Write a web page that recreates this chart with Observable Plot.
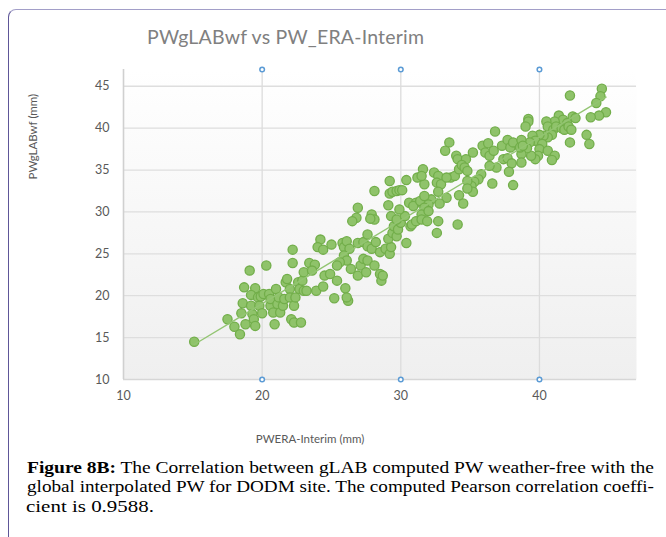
<!DOCTYPE html>
<html><head><meta charset="utf-8">
<script src="https://cdn.jsdelivr.net/npm/d3@7"></script>
<script src="https://cdn.jsdelivr.net/npm/@observablehq/plot@0.6"></script>
<style>
body{margin:0;background:#fff;}
#wrap{position:relative;width:666px;height:537px;overflow:hidden;font-family:Lato,sans-serif;}
#border{position:absolute;left:8px;top:9px;width:720px;height:620px;border-top:1.5px solid #a29ec8;border-left:1.5px solid #5e5698;border-top-left-radius:8px;}
#chart{position:absolute;left:0;top:0;}
#title{position:absolute;left:147px;top:25px;font-size:19.5px;letter-spacing:0.2px;color:#808080;white-space:nowrap;}
#caption{position:absolute;left:0;top:455px;}
</style></head><body>
<div id="wrap"><div id="border"></div><div id="chart"></div><div id="title">PWgLABwf vs PW_ERA-Interim</div>
<svg id="caption" width="666" height="82" font-family="'Liberation Serif', serif" font-size="16.5" fill="#000">
<text x="27" y="17.5" textLength="627" lengthAdjust="spacingAndGlyphs"><tspan font-weight="bold">Figure 8B:</tspan> The Correlation between gLAB computed PW weather-free with the</text>
<text x="27" y="37" textLength="627" lengthAdjust="spacingAndGlyphs">global interpolated PW for DODM site. The computed Pearson correlation coeffi-</text>
<text x="26" y="56.5" textLength="128" lengthAdjust="spacingAndGlyphs">cient is 0.9588.</text>
</svg>
</div>
<script>
// PW ERA-Interim (x, mm) vs PWgLABwf (y, mm)
const lowCluster = [[15.1,14.5],[17.5,17.2],[18.0,16.3],[18.4,15.4],[18.5,17.9],[18.6,19.1],[18.7,21.0],[19.1,23.0],[18.8,16.6],[19.2,18.8],[19.3,17.8],[19.4,17.2],[19.5,16.4],[19.5,20.9],[19.2,20.1],[19.7,19.8],[19.8,18.8],[19.9,19.9],[20.0,17.9],[20.1,20.2],[20.3,23.6],[20.5,20.2],[20.6,18.8],[20.6,19.6],[20.8,18.0],[20.9,16.6],[21.0,20.8],[21.1,19.0],[21.2,19.8],[21.3,18.0],[21.5,18.8],[21.6,19.6],[21.7,21.6],[21.8,22.0],[22.0,20.8],[22.0,19.8],[22.2,25.5],[22.2,23.9],[22.1,17.2],[22.3,16.8],[22.3,18.8],[22.4,19.8],[22.6,21.6],[22.7,20.8],[22.8,16.8],[22.9,21.8],[23.0,22.8],[23.0,20.6]];
const midCluster = [[24.2,26.7],[24.0,25.8],[24.4,25.5],[25.0,26.1],[23.4,23.9],[23.8,23.7],[23.6,23.0],[23.2,20.6],[23.9,20.6],[24.4,21.1],[24.5,22.4],[24.9,22.6],[25.4,21.8],[25.8,26.3],[25.9,25.8],[26.1,26.5],[26.3,25.6],[25.9,24.8],[26.1,24.2],[25.6,24.0],[25.4,23.6],[26.4,23.2],[26.9,22.4],[27.1,23.6],[27.3,24.4],[27.6,24.2],[27.5,22.8],[28.1,23.6],[28.5,22.6],[28.6,21.8],[28.7,22.4],[25.2,19.7],[26.0,20.9],[26.2,19.4],[26.1,19.8],[26.9,26.3],[27.3,26.4],[27.6,27.3],[27.6,25.9],[27.9,25.6],[28.2,26.4],[28.5,25.2],[28.9,25.6],[29.2,25.0],[29.3,25.8],[29.1,26.8],[29.4,27.5],[29.7,27.1],[29.5,28.3],[29.8,27.9],[30.0,28.7],[29.3,29.5],[29.7,29.1],[30.3,29.5],[30.4,26.3],[30.7,28.3],[29.9,30.3],[30.6,31.1],[29.1,30.8],[27.9,29.7],[28.1,29.1],[27.8,29.2],[26.9,30.5],[26.8,29.3],[26.5,28.9],[28.1,32.5],[29.2,33.7],[30.4,33.8],[29.2,32.2],[29.4,32.4],[29.7,32.5],[29.9,32.6],[30.1,32.6]];
const upperMid = [[36.8,39.6],[33.5,38.3],[33.2,37.3],[34.0,36.7],[34.1,36.3],[34.7,36.3],[35.2,37.1],[35.9,37.9],[36.3,38.2],[36.1,37.1],[36.4,36.7],[36.7,37.3],[37.3,37.9],[37.7,38.6],[37.9,37.7],[38.1,38.3],[37.4,36.3],[37.7,36.4],[38.0,35.8],[36.9,35.3],[36.4,35.5],[37.8,34.8],[38.1,33.2],[36.6,33.4],[35.8,34.5],[35.6,33.9],[35.3,33.6],[35.1,33.1],[34.8,33.7],[35.2,32.4],[34.8,32.8],[34.5,31.0],[34.2,32.0],[34.1,28.5],[33.3,31.7],[32.8,31.0],[32.7,28.9],[32.6,27.5],[32.4,34.7],[32.7,34.3],[32.6,33.5],[32.9,33.3],[32.7,32.4],[32.2,31.5],[31.7,33.3],[31.6,35.1],[31.2,34.1],[31.5,34.3],[31.1,31.1],[30.9,30.7],[31.4,31.3],[31.7,31.9],[32.0,30.9],[31.7,30.5],[30.8,28.5],[31.1,28.9],[31.5,29.7],[31.5,29.1],[32.0,30.1],[31.9,28.9],[33.6,34.1],[33.9,34.3],[34.2,35.1],[34.4,35.6],[34.6,35.3],[34.8,34.9],[33.3,34.1]];
const topCluster = [[44.5,44.7],[44.4,43.8],[44.1,43.0],[44.8,41.9],[44.3,41.5],[43.7,41.3],[42.2,43.9],[42.4,41.4],[42.6,41.2],[41.4,41.5],[41.7,41.0],[42.0,40.6],[41.1,40.8],[40.5,40.8],[40.6,40.2],[41.0,39.8],[41.2,40.2],[41.6,40.0],[41.8,39.8],[42.1,40.2],[42.3,39.8],[39.2,41.1],[39.2,40.8],[39.0,40.2],[43.4,39.2],[43.6,38.1],[42.2,38.3],[40.9,39.2],[40.6,38.9],[40.3,39.1],[40.0,39.2],[39.5,39.1],[39.7,38.5],[39.3,38.3],[40.2,38.1],[40.0,37.5],[40.6,37.3],[41.1,36.7],[40.9,36.2],[39.9,36.7],[39.7,36.3],[39.4,36.7],[39.1,37.6],[38.7,38.6],[38.7,36.9],[38.7,35.9],[38.6,37.7],[38.8,37.9]];

const xTicks = [10, 20, 30, 40];
const yTicks = [10, 15, 20, 25, 30, 35, 40, 45];
const dropLineX = [20, 30, 40];
const xDomain = [10, 47];
const yDomain = [10, 47];

const pts = [...lowCluster, ...midCluster, ...upperMid, ...topCluster].map(([x, y]) => ({x, y}));
const markerPts = dropLineX.flatMap(x => [{x, y: yDomain[0]}, {x, y: yDomain[1]}]);

const chart = Plot.plot({
  width: 666, height: 460,
  marginLeft: 123, marginRight: 30, marginTop: 69, marginBottom: 81,
  x: {domain: xDomain},
  y: {domain: yDomain},
  style: {fontFamily: "Lato, sans-serif", fontSize: "12.5px", color: "#595959", background: "transparent", overflow: "visible"},
  marks: [
    Plot.frame({fill: "url(#plotbg)", stroke: null}),
    Plot.ruleY(yTicks.slice(1), {stroke: "#dedede", strokeWidth: 1.3}),
    Plot.ruleX(dropLineX, {stroke: "#dcdcdc", strokeWidth: 1.3}),
    Plot.ruleY([yDomain[0]], {stroke: "#d6d6d6", strokeWidth: 1.6}),
    Plot.ruleX([xDomain[0]], {stroke: "#d0d0d0", strokeWidth: 1.6}),
    Plot.axisX({ticks: xTicks, tickSize: 0, tickPadding: 12, label: null, fill: "#595959"}),
    Plot.axisY({ticks: yTicks, tickSize: 0, tickPadding: 14, label: null, fill: "#595959"}),
    Plot.dot(pts, {x: "x", y: "y", r: 4.6, fill: "#8fc36a", stroke: "#72ae4a", strokeWidth: 1.3}),
    Plot.linearRegressionY(pts, {x: "x", y: "y", stroke: "#93c572", strokeWidth: 1.4, ci: 0}),
    Plot.dot(markerPts, {x: "x", y: "y", r: 2.3, fill: "white", stroke: "#5b9bd5", strokeWidth: 1.5}),
    Plot.text(["PWERA-Interim (mm)"], {frameAnchor: "bottom", dx: -70, dy: 63, fontSize: 11.5, fill: "#595959"}),
    Plot.text(["PWgLABwf (mm)"], {frameAnchor: "left", dx: -90, dy: -45, rotate: -90, fontSize: 11.5, fill: "#595959"})
  ]
});
const defs = d3.select(chart).insert("defs", ":first-child");
const g = defs.append("linearGradient").attr("id", "plotbg").attr("x1", 0).attr("y1", 0).attr("x2", 0).attr("y2", 1);
g.append("stop").attr("offset", "0%").attr("stop-color", "#ffffff");
g.append("stop").attr("offset", "100%").attr("stop-color", "#efefef");
document.getElementById("chart").appendChild(chart);
</script>
</body></html>
